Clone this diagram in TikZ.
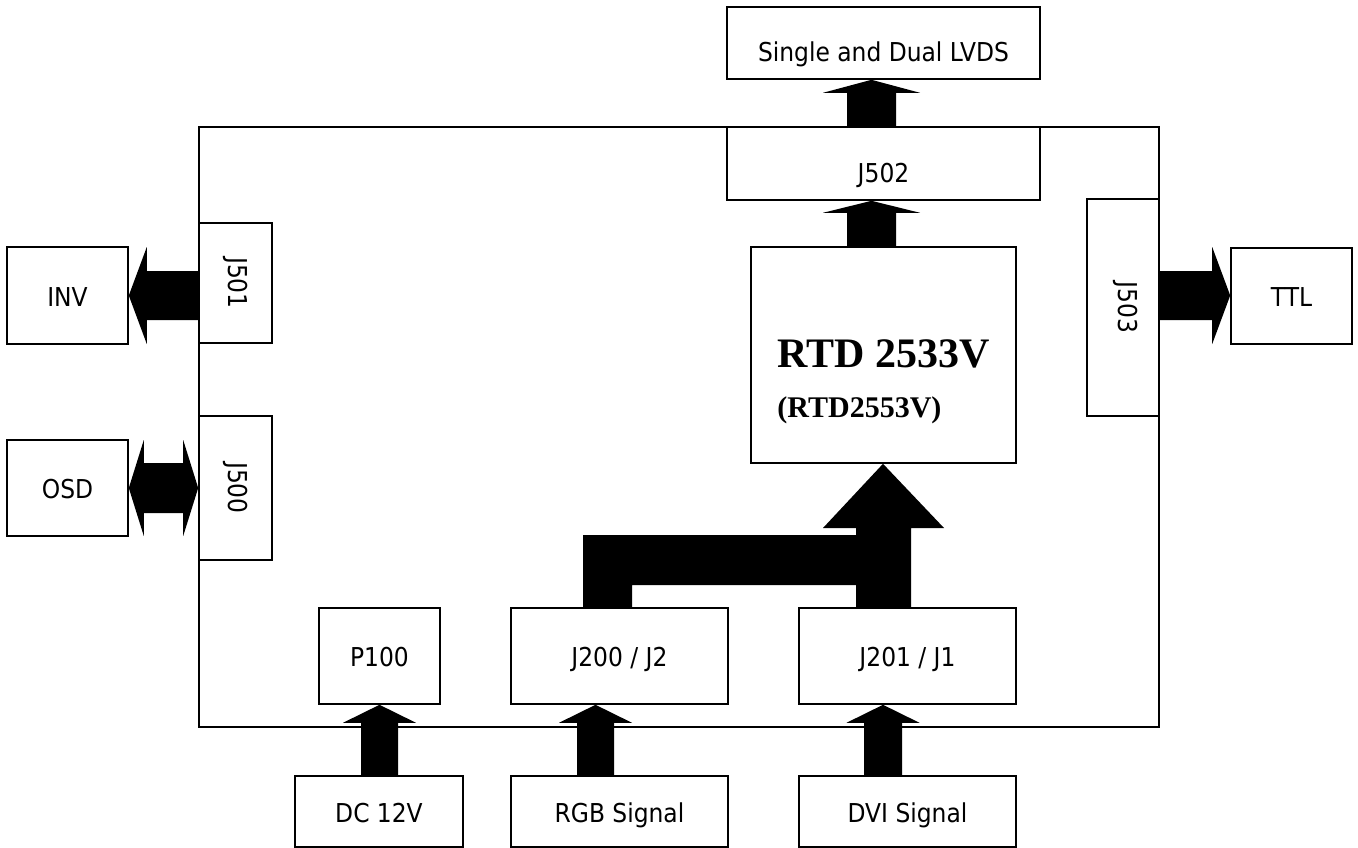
\documentclass[tikz,border=0pt]{standalone}
\usepackage{fontspec}
\setmainfont{DejaVu Sans Condensed}
\newfontfamily\rtdfont{Liberation Serif}
\usetikzlibrary{calc}

% up block arrow: #1 centre x (px), #2 start anchor, #3 tip anchor, #4 half shaft, #5 half head, #6 head length
\newcommand\blkup[6]{%
  \fill[black] let \p1=(#2), \p2=(#3) in
  ({#1pt-#4pt},\y1) -- ({#1pt-#4pt},{\y2-#6pt}) -- ({#1pt-#5pt},{\y2-#6pt}) -- (#1pt,\y2)
  -- ({#1pt+#5pt},{\y2-#6pt}) -- ({#1pt+#4pt},{\y2-#6pt}) -- ({#1pt+#4pt},\y1) -- cycle;}
% left block arrow: #1 centre y (px), #2 start anchor, #3 tip anchor
\newcommand\blkleft[6]{%
  \fill[black] let \p1=(#2), \p2=(#3) in
  (\x1,{-#1pt+#4pt}) -- ({\x2+#6pt},{-#1pt+#4pt}) -- ({\x2+#6pt},{-#1pt+#5pt}) -- (\x2,-#1pt)
  -- ({\x2+#6pt},{-#1pt-#5pt}) -- ({\x2+#6pt},{-#1pt-#4pt}) -- (\x1,{-#1pt-#4pt}) -- cycle;}
% right block arrow
\newcommand\blkright[6]{%
  \fill[black] let \p1=(#2), \p2=(#3) in
  (\x1,{-#1pt+#4pt}) -- ({\x2-#6pt},{-#1pt+#4pt}) -- ({\x2-#6pt},{-#1pt+#5pt}) -- (\x2,-#1pt)
  -- ({\x2-#6pt},{-#1pt-#5pt}) -- ({\x2-#6pt},{-#1pt-#4pt}) -- (\x1,{-#1pt-#4pt}) -- cycle;}
% double block arrow (horizontal)
\newcommand\blkboth[6]{%
  \fill[black] let \p1=(#2), \p2=(#3) in
  (\x1,-#1pt) -- ({\x1+#6pt},{-#1pt+#5pt}) -- ({\x1+#6pt},{-#1pt+#4pt}) -- ({\x2-#6pt},{-#1pt+#4pt})
  -- ({\x2-#6pt},{-#1pt+#5pt}) -- (\x2,-#1pt) -- ({\x2-#6pt},{-#1pt-#5pt}) -- ({\x2-#6pt},{-#1pt-#4pt})
  -- ({\x1+#6pt},{-#1pt-#4pt}) -- ({\x1+#6pt},{-#1pt-#5pt}) -- cycle;}

\begin{document}
\begin{tikzpicture}[x=1pt,y=-1pt,
  box/.style={draw=black, line width=1.6pt, fill=white, inner sep=0pt,
    font=\fontsize{26}{31}\selectfont},
  hbox/.style={box, text height=26pt, text depth=5pt},
  board/.style={draw=black, line width=1.6pt, inner sep=0pt}]
\useasboundingbox (0,0) rectangle (1358,848);

\node[board, minimum width=960pt, minimum height=600pt] (pcb) at (679,427) {};

\node[hbox, minimum width=313pt, minimum height=72pt] (lvds) at (883.5,43) {\raisebox{-8pt}{Single and Dual LVDS}};
\node[hbox, minimum width=313pt, minimum height=73pt] (j502) at (883.5,163.5) {\raisebox{-8.5pt}{J502}};
\node[box, minimum width=265pt, minimum height=216pt] (rtd) at (883.5,355)
  {\raisebox{-12pt}[0pt][0pt]{\begin{tabular}[t]{@{}l@{}}\rtdfont\bfseries\fontsize{42}{44}\selectfont RTD 2533V\\[19pt]
   \rtdfont\bfseries\fontsize{30}{32}\selectfont (RTD2553V)\end{tabular}}\hspace{10pt}};
\node[box, minimum width=72pt, minimum height=217pt] (j503) at (1123,307.5) {\hspace{6pt}\rotatebox{-90}{J503}};
\node[hbox, minimum width=121pt, minimum height=96pt] (ttl) at (1291.5,296) {TTL};
\node[box, minimum width=73pt, minimum height=120pt] (j501) at (235.5,283) {\rotatebox{-90}{J501}};
\node[hbox, minimum width=121pt, minimum height=97pt] (inv) at (67.5,295.5) {INV};
\node[box, minimum width=73pt, minimum height=144pt] (j500) at (235.5,488) {\rotatebox{-90}{J500}};
\node[hbox, minimum width=121pt, minimum height=96pt] (osd) at (67.5,488) {OSD};
\node[hbox, minimum width=121pt, minimum height=96pt] (p100) at (379.5,656) {P100};
\node[hbox, minimum width=217pt, minimum height=96pt] (j200) at (619.5,656) {J200 / J2};
\node[hbox, minimum width=217pt, minimum height=96pt] (j201) at (907.5,656) {J201 / J1};
\node[hbox, minimum width=168pt, minimum height=71pt] (dc) at (379,811.5) {DC 12V};
\node[hbox, minimum width=217pt, minimum height=71pt] (rgb) at (619.5,811.5) {RGB Signal};
\node[hbox, minimum width=217pt, minimum height=71pt] (dvi) at (907.5,811.5) {DVI Signal};

% connectors
\blkup{871.5}{j502.north}{lvds.south}{24.5}{48.5}{13}
\blkup{871.5}{rtd.north}{j502.south}{24.5}{48.5}{12}
\blkup{379.5}{dc.north}{p100.south}{18.5}{36.5}{18}
\blkup{595.5}{rgb.north}{j200.south}{18.5}{36.5}{18}
\blkup{883}{dvi.north}{j201.south}{19}{36.5}{18}
\blkleft{295.5}{j501.west}{inv.east}{24.5}{48.5}{18}
\blkright{295.5}{j503.east}{ttl.west}{24.5}{48.5}{18}
\blkboth{488}{osd.east}{j500.west}{25}{48}{15}

% merged RGB + DVI bus into the scaler
\fill[black] let \p1=(j200.north), \p2=(rtd.south), \p3=(j201.north) in
  (583pt,\y1) -- (583pt,-535pt) -- (856pt,-535pt) -- (856pt,-528pt) -- (823pt,-528pt)
  -- (883pt,\y2) -- (944pt,-528pt) -- (911pt,-528pt) -- (911pt,\y3) -- (856pt,\y3)
  -- (856pt,-585pt) -- (632pt,-585pt) -- (632pt,\y1) -- cycle;
\end{tikzpicture}
\end{document}
